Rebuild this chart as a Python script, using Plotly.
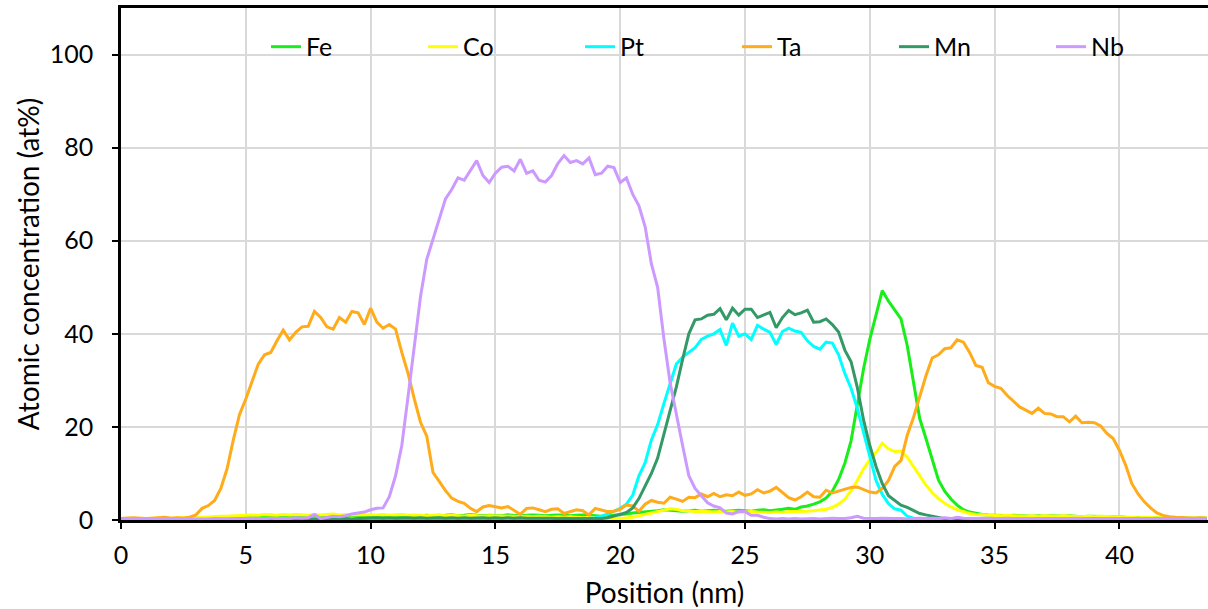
import numpy as np
import plotly.graph_objects as go

# Position grid (nm), 0.25 nm step
position = np.round(np.arange(175) * 0.25, 2)

fe = [0.2,0.3,0.2,0.3,0.2,0.3,0.3,0.2,0.3,0.3,0.4,0.3,0.4,0.4,0.5,0.4,0.5,0.5,0.6,0.7,
      0.8,0.9,0.8,0.9,1.0,0.9,0.8,0.9,1.0,0.9,0.8,0.9,0.9,1.0,0.9,0.8,0.9,1.0,0.9,0.9,
      0.9,1.0,0.9,0.8,0.9,1.0,0.9,0.8,0.9,1.0,0.9,0.9,1.0,1.1,0.9,1.0,1.2,1.0,0.9,1.0,
      1.0,0.9,1.1,1.0,0.9,1.0,1.1,1.0,0.9,1.0,1.1,1.0,0.9,1.0,1.1,1.0,0.9,0.8,0.9,1.0,
      1.1,1.3,1.5,1.6,1.8,1.9,2.0,2.2,2.1,2.0,1.9,2.0,2.1,1.9,2.0,2.1,2.0,1.9,2.0,2.1,
      2.0,1.9,2.1,2.2,2.0,2.1,2.3,2.5,2.3,2.8,3.0,3.4,3.9,4.7,6.2,8.7,12.2,17,25,32.5,
      38.8,44,49.3,47,45.2,43.2,37.5,29.5,21.8,17.5,13,8.6,6.2,4.5,3.2,2.2,1.7,1.4,1.2,1.1,
      1.0,1.0,0.9,1.0,0.9,0.9,0.8,0.9,0.8,0.9,0.8,0.8,0.9,0.8,0.7,0.8,0.8,0.7,0.8,0.7,
      0.7,0.6,0.6,0.5,0.6,0.5,0.5,0.4,0.5,0.4,0.5,0.4,0.4,0.5,0.4]

co = [0.3,0.4,0.3,0.4,0.3,0.4,0.4,0.5,0.4,0.5,0.5,0.6,0.5,0.6,0.7,0.7,0.8,0.8,0.9,1.0,
      1.0,1.1,1.0,1.2,1.1,1.0,1.2,1.1,1.2,1.1,1.0,1.2,1.1,1.2,1.3,1.1,1.2,1.1,1.2,1.1,
      1.2,1.1,1.2,1.0,1.1,1.2,1.0,1.1,1.0,0.9,1.0,1.1,0.9,1.0,0.9,0.8,1.0,0.9,0.8,0.9,
      0.9,0.8,0.9,0.8,0.7,0.8,0.7,0.8,0.7,0.6,0.7,0.6,0.7,0.6,0.5,0.6,0.5,0.4,0.4,0.3,
      0.3,0.4,0.6,0.9,1.2,1.5,1.8,2.1,2.4,2.3,2.0,2.0,1.8,1.9,1.8,1.7,1.8,1.7,1.8,1.6,
      1.7,1.8,1.7,1.6,1.6,1.7,1.6,1.8,1.8,1.9,1.9,2.0,2.1,2.3,2.7,3.4,4.5,6.3,8.5,11,
      12.9,14.5,16.5,15.3,14.7,14.8,13.5,11.5,9.5,7.5,5.9,4.6,3.6,2.8,2.2,1.8,1.4,1.2,1.1,1.0,
      1.0,0.9,1.0,0.9,0.9,0.8,0.9,0.8,0.9,0.8,0.8,0.9,0.8,0.8,0.7,0.8,0.7,0.8,0.7,0.7,
      0.7,0.6,0.6,0.5,0.6,0.5,0.5,0.5,0.4,0.5,0.4,0.5,0.4,0.4,0.5]

pt = [0.1,0.1,0.0,0.1,0.1,0.0,0.1,0.1,0.1,0.0,0.1,0.1,0.0,0.1,0.1,0.1,0.0,0.1,0.1,0.1,
      0.1,0.1,0.2,0.1,0.1,0.2,0.1,0.1,0.2,0.1,0.1,0.2,0.1,0.1,0.2,0.1,0.2,0.1,0.1,0.2,
      0.1,0.2,0.1,0.1,0.2,0.1,0.2,0.1,0.1,0.2,0.1,0.2,0.1,0.1,0.2,0.1,0.2,0.1,0.1,0.2,
      0.1,0.2,0.1,0.2,0.1,0.2,0.2,0.1,0.2,0.2,0.3,0.2,0.3,0.3,0.4,0.4,0.5,0.8,1.3,1.9,
      2.5,3.4,5.3,9.5,12.3,17.2,20.5,25,29,33.5,35,36,37,38.8,39.5,40,40.9,37.5,42.3,39.5,
      40,38.8,41.8,41,40.3,37.7,40.5,41.2,40.6,40.3,38.5,37.3,36.7,38.2,38,35.5,31.5,28.3,24,18.8,
      13.4,8.5,5.5,3.5,2.4,2.1,0.8,0.4,0.2,0.2,0.1,0.1,0.2,0.1,0.1,0.2,0.1,0.1,0.2,0.1,
      0.1,0.2,0.1,0.1,0.2,0.1,0.1,0.2,0.1,0.1,0.1,0.2,0.1,0.1,0.2,0.1,0.1,0.1,0.2,0.1,
      0.1,0.1,0.2,0.1,0.1,0.1,0.2,0.1,0.1,0.1,0.1,0.2,0.1,0.1,0.1]

ta = [0.3,0.4,0.5,0.4,0.3,0.4,0.5,0.6,0.4,0.5,0.4,0.6,1.1,2.5,3.1,4.2,6.8,11,17.2,22.7,
      26,29.8,33.5,35.5,36,38.5,40.8,38.7,40.3,41.5,41.6,44.8,43.5,41.5,41,43.5,42.5,44.8,44.5,42,
      45.5,42.5,41.2,42,41,36,31.5,26,21,18,10.2,8.3,6.3,4.7,4.0,3.6,2.5,1.8,2.8,3.1,
      2.9,2.6,2.9,2.0,1.2,2.5,2.6,2.2,1.8,2.3,2.4,1.4,1.8,2.2,2.0,1.1,2.5,2.2,1.8,1.9,
      2.3,3.2,3.0,1.9,3.4,4.2,3.8,3.6,4.9,4.5,4.0,4.9,4.8,5.6,5.0,5.7,5.0,5.4,5.2,6.0,
      5.3,5.6,6.5,5.8,6.2,7.0,5.8,4.8,4.3,5.0,6.0,5.0,4.9,6.4,5.8,6.2,6.5,7.0,7.1,6.6,
      6.0,5.8,6.8,8.5,11.5,12.8,18.2,22,26.5,31,34.8,35.5,36.8,37,38.7,38.2,36,33.2,32.8,29.5,
      28.7,28.3,26.8,25.5,24.3,23.6,22.9,24.0,22.9,22.8,22.2,22.2,21.1,22.3,20.9,21.0,20.9,20.2,18.6,17.5,
      15.0,11.8,7.8,5.6,3.9,2.6,1.5,1.0,0.7,0.6,0.5,0.5,0.4,0.5,0.4]

mn = [0.1,0.0,0.1,0.1,0.0,0.1,0.1,0.0,0.1,0.1,0.1,0.0,0.1,0.1,0.1,0.1,0.0,0.1,0.1,0.1,
      0.1,0.1,0.1,0.2,0.1,0.1,0.2,0.1,0.2,0.1,0.2,0.2,0.1,0.2,0.2,0.2,0.3,0.2,0.3,0.4,
      0.4,0.5,0.4,0.5,0.4,0.5,0.5,0.4,0.5,0.4,0.5,0.5,0.4,0.5,0.4,0.5,0.4,0.5,0.5,0.4,
      0.5,0.4,0.5,0.4,0.5,0.4,0.4,0.5,0.4,0.4,0.3,0.4,0.3,0.3,0.2,0.2,0.2,0.3,0.5,0.8,
      1.2,1.6,2.6,4.6,7.2,10,13.3,18.5,23.5,28.6,34.5,40,43,43.2,44,44.2,45.4,43,45.5,44,
      45.3,45.3,43.5,44,44.6,41.3,43.5,45,44.1,44.5,45.1,42.5,42.6,43.2,42,40.4,36.5,34,28.5,21.5,
      16,11.5,7.8,5.2,4.1,3.2,2.7,2.0,1.4,1.1,0.8,0.5,0.3,0.3,0.2,0.2,0.3,0.2,0.2,0.3,
      0.2,0.2,0.3,0.2,0.2,0.2,0.3,0.2,0.2,0.2,0.2,0.3,0.2,0.2,0.2,0.2,0.2,0.3,0.2,0.2,
      0.2,0.2,0.2,0.2,0.2,0.3,0.2,0.2,0.2,0.2,0.2,0.2,0.2,0.2,0.2]

nb = [0.2,0.1,0.2,0.1,0.2,0.1,0.2,0.2,0.1,0.2,0.2,0.1,0.2,0.2,0.2,0.3,0.2,0.2,0.3,0.2,
      0.3,0.4,0.3,0.2,0.4,0.3,0.4,0.3,0.5,0.4,0.5,1.2,0.3,0.6,0.8,0.7,0.9,1.3,1.5,1.7,
      2.2,2.5,2.6,5.0,9.5,16,26.5,37.5,48,56,60.2,64.5,69,71,73.5,73,75,77.2,74,72.5,
      74.5,75.8,76,75,77.5,74.5,75,73,72.6,74,76.6,78.3,76.8,77.2,76.5,77.8,74.2,74.5,76,75.7,
      72.5,73.5,70,67.5,63,55,50,39,29.5,22.5,16,9.5,6.8,5.2,3.7,3.0,2.6,1.5,1.3,1.8,
      1.8,1.0,1.0,0.6,0.3,0.2,0.3,0.2,0.3,0.2,0.3,0.3,0.2,0.3,0.4,0.3,0.3,0.5,0.8,0.4,
      0.3,0.3,0.4,0.3,0.3,0.3,0.2,0.3,0.4,0.3,0.4,0.3,0.5,0.3,0.6,0.4,0.3,0.3,0.4,0.3,
      0.3,0.3,0.4,0.3,0.3,0.2,0.3,0.3,0.3,0.2,0.3,0.3,0.3,0.4,0.3,0.3,0.2,0.3,0.3,0.3,
      0.3,0.2,0.3,0.3,0.2,0.3,0.2,0.3,0.3,0.2,0.3,0.2,0.3,0.2,0.3]

series_names = ["Fe", "Co", "Pt", "Ta", "Mn", "Nb"]
series_values = [fe, co, pt, ta, mn, nb]
series_colors = ["#1aee1a", "#ffff00", "#00ffff", "#ffab1a", "#339966", "#cc99ff"]

FONT = "Lato, 'Open Sans', sans-serif"

fig = go.Figure()
for name, vals, col in zip(series_names, series_values, series_colors):
    fig.add_trace(go.Scatter(x=position, y=vals, name=name, mode="lines",
                             line=dict(color=col, width=3)))

fig.update_layout(
    width=1208, height=609,
    margin=dict(l=121, r=0, t=8, b=89),
    paper_bgcolor="white", plot_bgcolor="white",
    font=dict(family=FONT, size=25, color="black"),
    legend=dict(orientation="h", x=1.0, xanchor="right", y=0.924, yanchor="middle",
                entrywidth=112, entrywidthmode="pixels",
                font=dict(family=FONT, size=25, color="black"),
                bgcolor="rgba(0,0,0,0)", itemwidth=30, tracegroupgap=0),
    xaxis=dict(range=[0, 43.55], tick0=0, dtick=5, showgrid=True, gridcolor="#d9d9d9", gridwidth=1.5,
               showline=True, linecolor="black", linewidth=2.5, mirror=True,
               ticks="outside", ticklen=6, tickwidth=2, tickcolor="black",
               ticklabelstandoff=5,
               zeroline=False, tickfont=dict(family=FONT, size=25),
               title=dict(text="Position (nm)", font=dict(family=FONT, size=28), standoff=16)),
    yaxis=dict(range=[0, 110], tick0=0, dtick=20, showgrid=True, gridcolor="#d9d9d9", gridwidth=1.5,
               showline=True, linecolor="black", linewidth=2.5,
               ticks="outside", ticklen=6, tickwidth=2, tickcolor="black",
               ticklabelstandoff=14,
               zeroline=False, tickfont=dict(family=FONT, size=25),
               title=dict(text="Atomic concentration (at%)", font=dict(family=FONT, size=28), standoff=2)),
)

fig.write_html("out.html")
